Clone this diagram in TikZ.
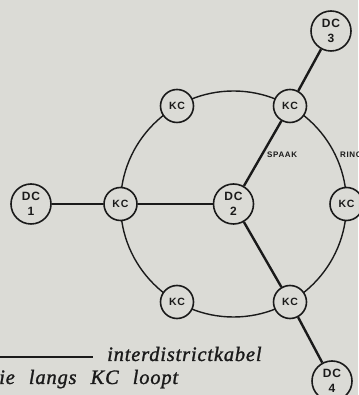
\documentclass[tikz,border=0pt]{standalone}
\usepackage{fontspec}
\setmainfont{Liberation Serif}
\newfontfamily\labfont{Liberation Sans}[LetterSpace=8]
\newfontfamily\legendfont{Liberation Serif}[LetterSpace=4,FakeBold=1.2]
\definecolor{paper}{RGB}{219,219,214}
\definecolor{ink}{RGB}{26,26,26}
\tikzset{
  kc/.style={circle,draw=ink,line width=1.6pt,fill=paper,minimum size=33pt,inner sep=0pt,
    font=\labfont\bfseries\fontsize{10.5}{12}\selectfont,text=ink},
  dc/.style={circle,draw=ink,line width=1.6pt,fill=paper,minimum size=40pt,inner sep=0pt,align=center,
    font=\labfont\bfseries\fontsize{12}{15.5}\selectfont,text=ink},
  spoke/.style={draw=ink,line width=2.4pt},
  ringline/.style={draw=ink,line width=1.4pt},
  tag/.style={anchor=west,inner sep=0pt,font=\labfont\bfseries\fontsize{8}{10}\selectfont,text=ink},
  legend/.style={inner sep=0pt,font=\legendfont\itshape\fontsize{20.5}{22}\selectfont,text=ink}
}
\newcommand{\wgap}{\hspace{14pt}}
\begin{document}
\begin{tikzpicture}[x=1pt,y=1pt]
\useasboundingbox (0,0) rectangle (358,395);
\fill[paper] (0,0) rectangle (358,395);
% ring (circle through the six KC nodes, centred on DC 2)
\coordinate (ringc) at (233.5,191);
\draw[ringline] (ringc) circle[radius=113];
% nodes
\node[dc] (dc1) at (31,191) {DC\\1};
\node[kc] (kcl) at (120.5,191) {KC};
\node[dc] (dc2) at (ringc) {DC\\2};
\node[kc] (kctl) at (177,289) {KC};
\node[kc] (kctr) at (290,289) {KC};
\node[kc] (kcr) at (346.5,191) {KC};
\node[kc] (kcbr) at (290,93) {KC};
\node[kc] (kcbl) at (177,93) {KC};
\node[dc] (dc3) at (331,364) {DC\\3};
\node[dc] (dc4) at (332,14) {DC\\4};
% spokes
\draw[spoke] (dc1) -- (kcl);
\draw[spoke] (kcl) -- (dc2);
\draw[spoke] (dc2) -- (kctr);
\draw[spoke] (kctr) -- (dc3);
\draw[spoke] (dc2) -- (kcbr);
\draw[spoke] (kcbr) -- (dc4);
% labels
\node[tag] (spaak) at (267,240) {SPAAK};
\node[tag] (ring) at (340,240) {RING};
% legend
\coordinate (lg1) at (0,38);
\coordinate (lg2) at (93,38);
\draw[draw=ink,line width=1.3pt] (lg1) -- (lg2);
\node[legend,anchor=base west] (leg1) at (107,34) {interdistrictkabel};
\node[legend,anchor=base west] (leg2) at (-12,11) {die\wgap langs\wgap KC\wgap loopt};
\end{tikzpicture}
\end{document}
